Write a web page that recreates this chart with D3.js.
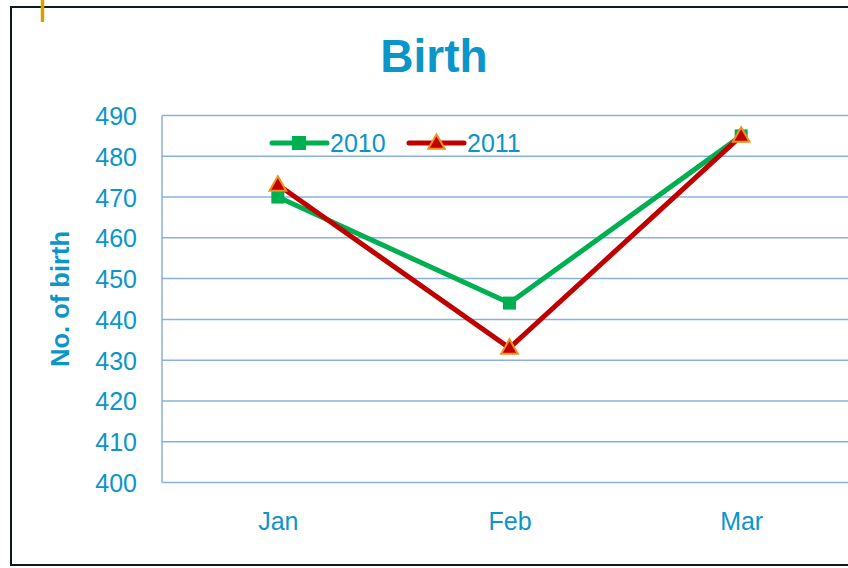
<!DOCTYPE html>
<html>
<head>
<meta charset="utf-8">
<script src="https://cdn.jsdelivr.net/npm/d3@7"></script>
<style>
  body { margin: 0; background: #fff; }
  text { font-family: "Liberation Sans", Arial, sans-serif; }
</style>
</head>
<body>
<svg id="chart"></svg>
<script>
// Width and height of svg
var width = 848;
var height = 568;

var months = ["Jan", "Feb", "Mar"];
var births2010 = [470, 444, 485];
var births2011 = [473, 433, 485];
var yTicks = [400, 410, 420, 430, 440, 450, 460, 470, 480, 490];
var seriesNames = ["2010", "2011"];

var textColor = "#0c95c9";
var gridColor = "#88b2dc";
var green = "#00b050";
var red = "#c00000";
var orange = "#f0901e";

var plot = {left: 162, top: 115.5, right: 857, bottom: 482.5};

var svg = d3.select("#chart")
    .attr("width", width)
    .attr("height", height);

// frame of the slide
svg.append("rect")
    .attr("x", 11).attr("y", 7)
    .attr("width", 880).attr("height", 558)
    .style("fill", "none")
    .style("stroke", "#0f1a1f")
    .style("stroke-width", 2);

svg.append("line")
    .attr("x1", 42.5).attr("x2", 42.5)
    .attr("y1", 0).attr("y2", 22)
    .style("stroke", "#d9a000")
    .style("stroke-width", 3.5);

var x = d3.scalePoint()
    .domain(months)
    .range([plot.left, plot.right])
    .padding(0.5);

var y = d3.scaleLinear()
    .domain([400, 490])
    .range([plot.bottom, plot.top]);

// gridlines
svg.append("g")
  .selectAll("line")
  .data(yTicks)
  .enter()
  .append("line")
    .attr("x1", plot.left).attr("x2", plot.right)
    .attr("y1", function(d) { return y(d); })
    .attr("y2", function(d) { return y(d); })
    .style("stroke", gridColor)
    .style("stroke-width", 1.5);

svg.append("line")
    .attr("x1", plot.left).attr("x2", plot.left)
    .attr("y1", plot.top).attr("y2", plot.bottom)
    .style("stroke", gridColor)
    .style("stroke-width", 1.5);

// y tick labels
var yAxis = svg.append("g")
    .attr("transform", "translate(" + (plot.left - 25) + ",0)")
    .call(d3.axisLeft(y).tickValues(yTicks).tickSize(0).tickPadding(0));
yAxis.select(".domain").remove();
yAxis.selectAll("text")
    .style("font-size", "25px")
    .style("fill", textColor)
    .attr("dy", "0.36em");

// x tick labels
var xAxis = svg.append("g")
    .attr("transform", "translate(0," + plot.bottom + ")")
    .call(d3.axisBottom(x).tickSize(0).tickPadding(0));
xAxis.select(".domain").remove();
xAxis.selectAll("text")
    .style("font-size", "25px")
    .style("fill", textColor)
    .attr("dy", "1.9em");

// titles
svg.append("text")
    .attr("x", 434).attr("y", 72)
    .attr("text-anchor", "middle")
    .style("font-size", "46px")
    .style("font-weight", "bold")
    .style("fill", textColor)
    .text("Birth");

svg.append("text")
    .attr("transform", "translate(69,299)rotate(-90)")
    .attr("text-anchor", "middle")
    .style("font-size", "25.5px")
    .style("font-weight", "bold")
    .style("fill", textColor)
    .text("No. of birth");

var line = d3.line()
    .x(function(d, i) { return x(months[i]); })
    .y(function(d) { return y(d); });

var tri = d3.symbol().type(d3.symbolTriangle).size(120);

// 2010 series
svg.append("path")
    .datum(births2010)
    .attr("d", line)
    .style("fill", "none")
    .style("stroke", green)
    .style("stroke-width", 5)
    .style("stroke-linejoin", "round");

svg.append("g")
  .selectAll("rect")
  .data(births2010)
  .enter()
  .append("rect")
    .attr("x", function(d, i) { return x(months[i]) - 6.5; })
    .attr("y", function(d) { return y(d) - 6.5; })
    .attr("width", 13).attr("height", 13)
    .style("fill", green);

// 2011 series
svg.append("path")
    .datum(births2011)
    .attr("d", line)
    .style("fill", "none")
    .style("stroke", red)
    .style("stroke-width", 5)
    .style("stroke-linejoin", "round");

svg.append("g")
  .selectAll("path")
  .data(births2011)
  .enter()
  .append("path")
    .attr("d", tri)
    .attr("transform", function(d, i) { return "translate(" + x(months[i]) + "," + (y(d) + 1) + ")"; })
    .style("fill", red)
    .style("stroke", orange)
    .style("stroke-width", 2);

// legend
var legendItems = [
  {name: seriesNames[0], color: green, x: 272, marker: "square"},
  {name: seriesNames[1], color: red, x: 409, marker: "triangle"}
];
var legend = svg.append("g").attr("transform", "translate(0,143)");
legendItems.forEach(function(it) {
  var g = legend.append("g").attr("transform", "translate(" + it.x + ",0)");
  g.append("line")
      .attr("x1", 0).attr("x2", 55)
      .style("stroke", it.color)
      .style("stroke-width", 5)
      .style("stroke-linecap", "round");
  if (it.marker == "square") {
    g.append("rect")
        .attr("x", 20).attr("y", -7)
        .attr("width", 14).attr("height", 14)
        .style("fill", it.color);
  } else {
    g.append("path")
        .attr("d", tri)
        .attr("transform", "translate(27.5,1)")
        .style("fill", it.color)
        .style("stroke", orange)
        .style("stroke-width", 2);
  }
  g.append("text")
      .attr("x", 58).attr("y", 9)
      .style("font-size", "25px")
      .style("fill", textColor)
      .text(it.name);
});
</script>
</body>
</html>
